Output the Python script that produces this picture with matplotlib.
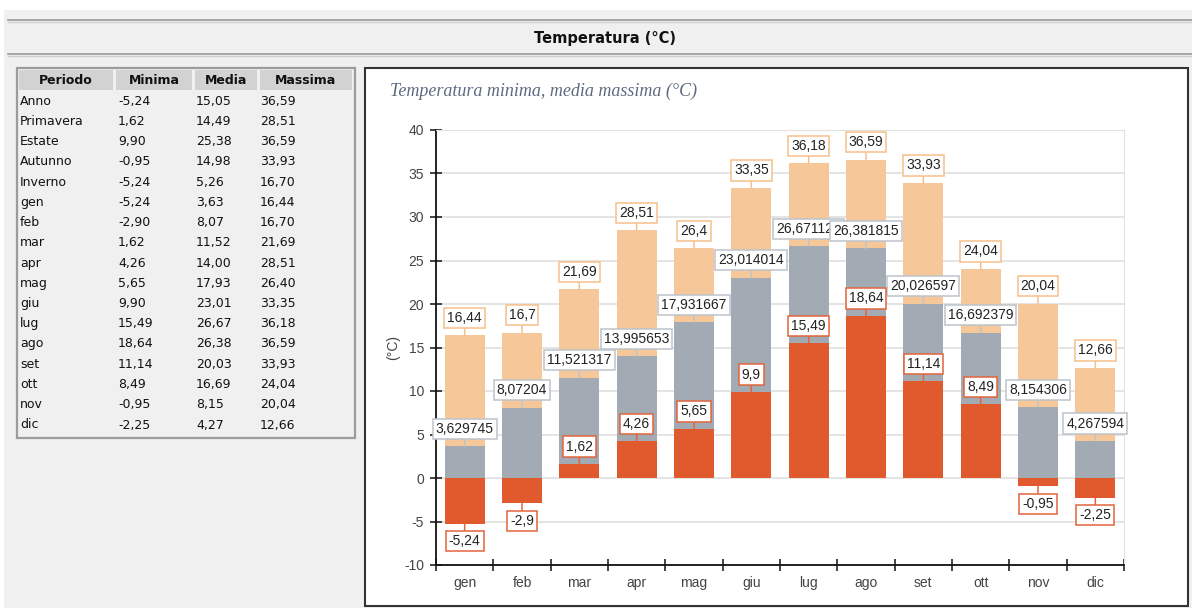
import matplotlib
matplotlib.use("Agg")
import matplotlib.pyplot as plt
from matplotlib.patches import Rectangle
from matplotlib.lines import Line2D

plt.rcParams['axes.unicode_minus'] = False

# ---- summary table data ----
periods = ['Anno', 'Primavera', 'Estate', 'Autunno', 'Inverno',
           'gen', 'feb', 'mar', 'apr', 'mag', 'giu', 'lug', 'ago',
           'set', 'ott', 'nov', 'dic']
tab_min = [-5.24, 1.62, 9.90, -0.95, -5.24, -5.24, -2.90, 1.62, 4.26, 5.65,
           9.90, 15.49, 18.64, 11.14, 8.49, -0.95, -2.25]
tab_med = [15.05, 14.49, 25.38, 14.98, 5.26, 3.63, 8.07, 11.52, 14.00, 17.93,
           23.01, 26.67, 26.38, 20.03, 16.69, 8.15, 4.27]
tab_max = [36.59, 28.51, 36.59, 33.93, 16.70, 16.44, 16.70, 21.69, 28.51, 26.40,
           33.35, 36.18, 36.59, 33.93, 24.04, 20.04, 12.66]
tab_header = ['Periodo', 'Minima', 'Media', 'Massima']

# ---- monthly chart data ----
months = ['gen', 'feb', 'mar', 'apr', 'mag', 'giu', 'lug', 'ago', 'set', 'ott', 'nov', 'dic']
t_min = [-5.24, -2.9, 1.62, 4.26, 5.65, 9.9, 15.49, 18.64, 11.14, 8.49, -0.95, -2.25]
t_med = [3.629745, 8.07204, 11.521317, 13.995653, 17.931667, 23.014014,
         26.671129, 26.381815, 20.026597, 16.692379, 8.154306, 4.267594]
t_max = [16.44, 16.7, 21.69, 28.51, 26.4, 33.35, 36.18, 36.59, 33.93, 24.04, 20.04, 12.66]

W, H = 1192, 608
BG = '#f0f0f0'
C_MAX = '#f5c799'
C_MED = '#a2abb3'
C_MIN = '#e05a2e'
E_MAX = '#f5c08a'
E_MED = '#bcc4ca'
E_MIN = '#e2643a'

fig = plt.figure(figsize=(W / 100, H / 100), dpi=100, facecolor=BG)


def fx(x):
    return x / W


def fy(y):
    return 1 - y / H


def frect(x0, y0, x1, y1, **kw):
    r = Rectangle((fx(x0), fy(y1)), fx(x1) - fx(x0), fy(y0) - fy(y1),
                  transform=fig.transFigure, zorder=-5, **kw)
    fig.patches.append(r)
    return r


# page background bits
frect(0, 0, W, 10, facecolor='white', edgecolor='none')
frect(0, 0, 4, H, facecolor='white', edgecolor='none')
for yy in (20, 54):
    fig.add_artist(Line2D([fx(8), fx(W)], [fy(yy), fy(yy)], color='#9a9a9a', lw=1.2,
                          transform=fig.transFigure))
    fig.add_artist(Line2D([fx(8), fx(W)], [fy(yy + 1.5), fy(yy + 1.5)], color='#d0d0d0', lw=1.0,
                          transform=fig.transFigure))
fig.text(fx(605), fy(38), 'Temperatura (°C)', ha='center', va='center',
         fontsize=10.5, fontweight='bold', family='DejaVu Sans', color='#111111')

# ---- summary table ----
frect(17, 68, 355, 438, facecolor=BG, edgecolor='#9c9c9c', lw=1.6)
col_spans = [(19, 113), (116, 192), (195, 257), (260, 352)]
for (a, b), name in zip(col_spans, tab_header):
    frect(a, 70, b, 90, facecolor='#d2d2d2', edgecolor='none')
    fig.text(fx((a + b) / 2), fy(80.5), name, ha='center', va='center',
             fontsize=9, fontweight='bold', family='DejaVu Sans', color='#111111')

col_x = [20, 118, 196, 260]
row0, row_step = 101, 20.25
for k, p in enumerate(periods):
    yy = fy(row0 + k * row_step)
    vals = [p,
            f'{tab_min[k]:.2f}'.replace('.', ','),
            f'{tab_med[k]:.2f}'.replace('.', ','),
            f'{tab_max[k]:.2f}'.replace('.', ',')]
    for cx, txt in zip(col_x, vals):
        fig.text(fx(cx), yy, txt, ha='left', va='center', fontsize=9,
                 family='DejaVu Sans', color='#111111')

# ---- chart panel ----
frect(365, 68, 1188, 606, facecolor='white', edgecolor='#333333', lw=1.5)
fig.text(fx(390), fy(91), 'Temperatura minima, media massima (°C)', ha='left', va='center',
         fontsize=13, fontstyle='italic', family='Liberation Serif', color='#5d6b80')

ax = fig.add_axes([fx(436), fy(565), fx(1124) - fx(436), fy(130) - fy(565)])
ax.set_zorder(5)
ax.set_facecolor('none')
x = list(range(len(months)))
bw = 0.7
ax.bar(x, t_max, width=bw, color=C_MAX, zorder=2)
ax.bar(x, t_med, width=bw, color=C_MED, zorder=3)
ax.bar(x, t_min, width=bw, color=C_MIN, zorder=4)

ax.set_xlim(-0.5, len(months) - 0.5)
ax.set_ylim(-10, 40)
ax.set_yticks(range(-10, 41, 5))
ax.set_xticks(x)
ax.set_xticklabels(months)
ax.set_xticks([i - 0.5 for i in range(len(months) + 1)], minor=True)
ax.tick_params(axis='x', which='major', length=0, pad=8, labelsize=10, labelcolor='#444444')
ax.tick_params(axis='x', which='minor', direction='inout', length=9, width=1.2, color='#222222')
ax.tick_params(axis='y', which='major', direction='inout', length=9, width=1.2, color='#222222',
               labelsize=10, labelcolor='#444444', pad=4)
for lab in ax.get_xticklabels() + ax.get_yticklabels():
    lab.set_family('Liberation Sans')
ax.set_axisbelow(True)
ax.grid(axis='y', color='#e2e2e2', lw=1.3, zorder=0)
ax.spines['left'].set_color('#111111')
ax.spines['bottom'].set_color('#111111')
ax.spines['left'].set_linewidth(1.3)
ax.spines['bottom'].set_linewidth(1.3)
ax.spines['right'].set_color('#e2e2e2')
ax.spines['top'].set_color('#e2e2e2')
ax.set_ylabel('(°C)', fontsize=10, color='#444444', family='Liberation Sans', labelpad=3)


def fmt(v):
    s = f'{v:.6f}'.rstrip('0').rstrip('.')
    return s.replace('.', ',')


z = 10
for series, edge in ((t_max, E_MAX), (t_med, E_MED), (t_min, E_MIN)):
    for i, v in enumerate(series):
        off = 12.5 if v >= 0 else -12.5
        ax.annotate(fmt(v), xy=(i, v), xytext=(0, off), textcoords='offset points',
                    ha='center', va='center', fontsize=10, family='Liberation Sans',
                    color='#222222', zorder=z,
                    bbox=dict(boxstyle='square,pad=0.22', fc='white', ec=edge, lw=1.1),
                    arrowprops=dict(arrowstyle='-', color=edge, lw=1.1,
                                    shrinkA=0, shrinkB=0))
        z += 1

fig.savefig('out.png', dpi=100, facecolor=BG)
